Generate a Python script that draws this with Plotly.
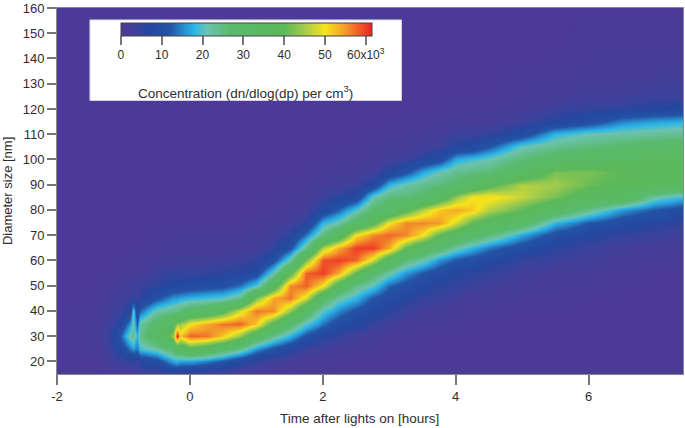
import numpy as np
import plotly.graph_objects as go

diameters = [15,20,25,30,35,40,45,50,55,60,65,70,75,80,85,90,95,100,105,110,115,120,125,140,160]
times = [-2,-1.4,-1.2,-1.05,-0.9,-0.86,-0.8,-0.75,-0.5,-0.25,-0.2,-0.15,0,0.25,0.5,0.75,1,1.25,1.5,1.75,2,2.25,2.5,2.75,3,3.25,3.5,3.75,4,4.25,4.5,5,5.5,6,6.5,7,7.5]
# concentration (x10^3) per time column, from 15 nm upward; columns stop where the value reaches zero
columns = [
 [0],
 [0,0,1,1,1,1],
 [1,3,4,5,4,3,2,1],
 [1,4,8,12,7,4,3,2,1],
 [2,5,14,22,16,8,4,3,2,1],
 [2,5,16,24,22,20,6,4,2,1],
 [2,5,14,18,12,8,4,3,2,1],
 [3,7,19,24,22,13,6,4,2,1],
 [3,10,22,32,30,22,11,6,4,2,1],
 [4,17,28,44,36,24,16,8,5,3,2,1],
 [5,18,32,62,44,25,16,8,5,3,2,1],
 [4,17,32,52,44,26,17,8,5,3,2,1],
 [4,17,38,58,50,30,18,9,5,3,2,1],
 [3,15,34,57,54,32,19,10,5,3,2,1],
 [2,12,29,52,57,38,20,11,6,3,2,1],
 [1,8,24,44,58,48,24,14,7,4,2,1],
 [1,5,16,32,52,57,42,20,9,5,3,2,1],
 [0,3,11,24,38,56,54,34,21,10,5,3,2,1],
 [0,2,7,18,28,44,57,56,38,22,11,6,3,2,1],
 [0,1,4,11,20,30,48,58,58,42,24,14,6,3,2,1],
 [0,1,3,7,14,20,30,50,60,59,46,25,18,8,4,2,1],
 [0,0,2,5,9,15,22,34,54,60,54,34,22,13,6,3,2,1],
 [0,0,1,3,7,11,18,24,40,58,60,50,30,20,8,4,2,1],
 [0,0,1,2,5,8,12,20,28,48,60,56,38,28,21,8,3,2,1],
 [0,0,0,1,3,6,9,13,22,34,54,58,50,30,26,18,7,3,2,1],
 [0,0,0,1,2,4,7,10,16,26,40,56,56,38,26,22,11,4,2,1],
 [0,0,0,0,2,3,5,8,12,22,32,50,56,46,28,24,17,7,3,2,1],
 [0,0,0,0,1,2,4,6,9,16,28,40,55,52,34,26,21,9,4,2,1],
 [0,0,0,0,1,2,3,5,7,12,22,34,48,54,44,28,24,17,7,4,2,1],
 [0,0,0,0,0,1,2,4,6,10,18,30,40,52,50,32,25,19,8,4,2,1],
 [0,0,0,0,0,1,2,3,5,8,14,26,36,46,51,38,26,21,12,5,2,1],
 [0,0,0,0,0,0,1,2,3,5,9,17,30,40,47,46,32,26,21,9,4,2,1],
 [0,0,0,0,0,0,1,1,2,4,6,10,18,32,42,45,42,30,24,18,7,4,2],
 [0,0,0,0,0,0,0,1,2,3,4,7,12,24,36,41,42,33,26,21,10,5,3,1],
 [0,0,0,0,0,0,0,0,1,2,3,5,9,16,34,39,40,35,28,22,15,6,3,1],
 [0,0,0,0,0,0,0,0,0,1,2,4,7,12,22,37,38,36,30,23,17,7,4,1],
 [0,0,0,0,0,0,0,0,0,1,2,3,5,9,18,35,38,36,31,24,18,8,4,1],
]
bar_ticks = [0,10,20,30,40,50,60]
bar_labels = ["0","10","20","30","40","50","60x10<sup>3</sup>"]
x_ticks = [-2,0,2,4,6]
x_tick_labels = ["-2","0","2","4","6"]
y_ticks = list(range(20,161,10))

z = np.zeros((len(diameters), len(times)))
for j, col in enumerate(columns):
    z[:len(col), j] = col

ZMAX = 61.5
stops = [(0,"#4b3a96"),(3,"#43409a"),(7,"#25479f"),(12,"#2353a6"),(15.5,"#2a8fd0"),(18,"#2bb7e7"),
         (21,"#6cc3b0"),(27,"#58ba6c"),(40,"#5bb95a"),(45,"#a4cb4c"),(50,"#f7e41c"),(55,"#f39a2b"),(61.5,"#ed2024")]
colorscale = [[v/ZMAX, c] for v, c in stops]

FONT = "Liberation Sans"
TXT = "#2e2e2e"
W, H = 685, 428
L, R, T, B = 57, 1, 6, 54
pw, ph = W-L-R, H-T-B

fig = go.Figure(go.Heatmap(
    x=times, y=diameters, z=z, zmin=0, zmax=ZMAX, zsmooth="best", colorscale=colorscale,
    colorbar=dict(orientation="h", x=(121-L)/pw, xanchor="left", y=(H-B-21)/ph, yanchor="top",
                  len=(372-121)/pw, lenmode="fraction", thickness=13, thicknessmode="pixels",
                  xpad=0, ypad=0, outlinecolor="#444", outlinewidth=1, borderwidth=0,
                  tickmode="array", tickvals=bar_ticks, ticktext=bar_labels, ticks="outside",
                  ticklen=9, tickcolor="#777", tickwidth=1.5, tickfont=dict(family=FONT, size=12, color=TXT)),
))
fig.update_layout(
    width=W, height=H, autosize=False, margin=dict(l=L, r=R, t=T, b=B),
    paper_bgcolor="white", plot_bgcolor="#4b3a96", font=dict(family=FONT, color=TXT),
    xaxis=dict(range=[-2, 7.42], tickvals=x_ticks, ticktext=x_tick_labels, ticks="outside", ticklen=10, tickcolor="#777", tickwidth=1.5,
               showgrid=False, zeroline=False, showline=True, linecolor="#888", linewidth=1, mirror=True,
               tickfont=dict(size=13, color=TXT)),
    yaxis=dict(range=[15, 160], tickvals=y_ticks, ticks="outside", ticklen=9, tickcolor="#777", tickwidth=1.5,
               showgrid=False, zeroline=False, showline=True, linecolor="#888", linewidth=1, mirror=True,
               ticklabeloverflow="allow", tickfont=dict(size=13, color=TXT)),
    shapes=[dict(type="rect", xref="paper", yref="paper", x0=(90-L)/pw, x1=(402-L)/pw,
                 y0=(H-B-99)/ph, y1=(H-B-18)/ph, fillcolor="white", line=dict(color="#d8d0e8", width=1), layer="above")],
    annotations=[
        dict(text="Concentration (dn/dlog(dp) per cm<sup>3</sup>)", xref="paper", yref="paper",
             x=(246-L)/pw, y=(H-B-90)/ph, xanchor="center", yanchor="middle", showarrow=False,
             font=dict(family=FONT, size=13.5, color=TXT)),
        dict(text="Time after lights on [hours]", xref="paper", yref="paper",
             x=(360-L)/pw, y=(H-B-419)/ph, xanchor="center", yanchor="middle", showarrow=False,
             font=dict(family=FONT, size=13.5, color=TXT)),
        dict(text="Diameter size [nm]", xref="paper", yref="paper", textangle=-90,
             x=(7-L)/pw, y=(H-B-190)/ph, xanchor="center", yanchor="middle", showarrow=False,
             font=dict(family=FONT, size=13, color=TXT)),
    ],
)
fig.write_html("out.html", post_script="document.body.style.margin='0';", config={"displayModeBar": False})
